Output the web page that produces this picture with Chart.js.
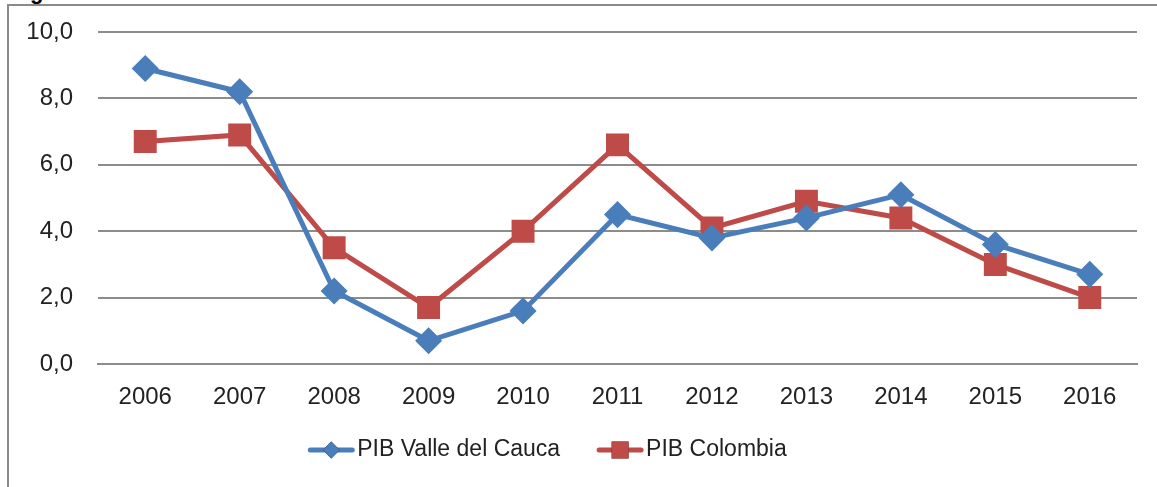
<!DOCTYPE html>
<html>
<head>
<meta charset="utf-8">
<script src="https://cdn.jsdelivr.net/npm/chart.js@4"></script>
<style>
  html, body { margin: 0; padding: 0; background: #fff; }
  #wrap { position: relative; width: 1157px; height: 487px; overflow: hidden; }
  #frame { position: absolute; left: 7px; top: 4px; width: 1160px; height: 500px;
           border-left: 2px solid #8a8a8a; border-top: 2px solid #8a8a8a; }
  #caption { position: absolute; left: 30px; top: -21px; font: bold 22px "Liberation Sans", Arial, sans-serif; color: #000; }
  canvas { position: absolute; left: 0; top: 0; }
</style>
</head>
<body>
<div id="wrap">
  <div id="caption">g</div>
  <div id="frame"></div>
  <canvas id="myChart" width="1157" height="487"></canvas>
</div>
<script>
// data
const years = ['2006', '2007', '2008', '2009', '2010', '2011', '2012', '2013', '2014', '2015', '2016'];
const pibValle = [8.9, 8.2, 2.2, 0.7, 1.6, 4.5, 3.8, 4.4, 5.1, 3.6, 2.7];
const pibColombia = [6.7, 6.9, 3.5, 1.7, 4.0, 6.6, 4.1, 4.9, 4.4, 3.0, 2.0];
const seriesNames = ['PIB Valle del Cauca', 'PIB Colombia'];

const blue = '#4a7ebb';
const red = '#be4b48';
const fontFamily = '"Liberation Sans", Arial, sans-serif';

// legend plugin block (excel style: line + marker, then the name)
const excelLegend = {
  id: 'excelLegend',
  afterDraw(chart) {
    const { ctx } = chart;
    const centerX = 547, y = 450;
    const lineW = 48, textGap = 2, itemGap = 36;

    ctx.save();
    ctx.font = '23px ' + fontFamily;
    const widths = chart.data.datasets.map(ds => ctx.measureText(ds.label).width);
    const total = widths.reduce((a, w) => a + lineW + textGap + w, 0) + itemGap * (widths.length - 1);
    let x = centerX - total / 2;

    chart.data.datasets.forEach((ds, i) => {
      ctx.strokeStyle = ds.borderColor;
      ctx.lineWidth = 5;
      ctx.lineCap = 'round';
      ctx.beginPath();
      ctx.moveTo(x + 3, y);
      ctx.lineTo(x + lineW - 3, y);
      ctx.stroke();

      Chart.helpers.drawPoint(ctx, {
        pointStyle: ds.pointStyle,
        radius: ds.pointStyle === 'rect' ? 12 : 8.5,
        rotation: 0,
        borderWidth: 0
      }, x + lineW / 2, y);
      ctx.fillStyle = ds.backgroundColor;
      ctx.fill();

      ctx.fillStyle = '#222';
      ctx.textAlign = 'left';
      ctx.textBaseline = 'middle';
      ctx.fillText(ds.label, x + lineW + textGap, y);
      x += lineW + textGap + widths[i] + itemGap;
    });
    ctx.restore();
  }
};

const config = {
  type: 'line',
  data: {
    labels: years,
    datasets: [
      {
        label: seriesNames[0],
        data: pibValle,
        borderColor: blue,
        backgroundColor: blue,
        borderWidth: 5,
        pointStyle: 'rectRot',
        pointRadius: 10,
        pointHoverRadius: 10,
        tension: 0
      },
      {
        label: seriesNames[1],
        data: pibColombia,
        borderColor: red,
        backgroundColor: red,
        borderWidth: 5,
        pointStyle: 'rect',
        pointRadius: 12.7,
        pointHoverRadius: 12.7,
        tension: 0
      }
    ]
  },
  options: {
    responsive: false,
    animation: false,
    layout: {
      padding: { top: 32, right: 20, left: 0, bottom: 0 }
    },
    scales: {
      x: {
        offset: true,
        afterFit: (scale) => { scale.height = 123; },
        grid: { display: false, drawTicks: false },
        border: { display: true, color: '#8c8c8c', width: 2 },
        ticks: {
          color: '#222',
          padding: 19,
          font: { family: fontFamily, size: 24 }
        }
      },
      y: {
        min: 0,
        max: 10,
        afterFit: (scale) => {
          scale.width = 98;
          scale.paddingTop = 0;
          scale.paddingBottom = 0;
        },
        border: { display: false },
        grid: { color: '#8c8c8c', lineWidth: 2, drawTicks: false },
        ticks: {
          stepSize: 2,
          color: '#222',
          padding: 25,
          font: { family: fontFamily, size: 24 },
          callback: (v) => v.toFixed(1).replace('.', ',')
        }
      }
    },
    plugins: {
      tooltip: { enabled: false },
      legend: { display: false }
    }
  },
  plugins: [excelLegend]
};

const myChart = new Chart(document.getElementById('myChart'), config);
</script>
</body>
</html>
